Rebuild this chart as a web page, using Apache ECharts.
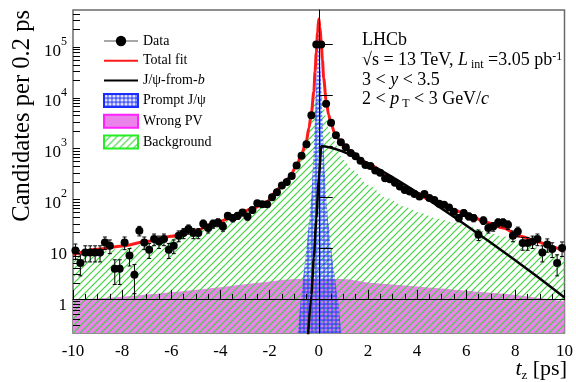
<!DOCTYPE html>
<html>
<head>
<meta charset="utf-8">
<script src="https://cdn.jsdelivr.net/npm/echarts@6/dist/echarts.min.js"></script>
<style>
  html, body { margin: 0; padding: 0; background: #fff; }
  #chart { width: 576px; height: 382px; }
</style>
</head>
<body>
<div id="chart"></div>
<script>
// ---- data: t_z bins (0.2 ps wide) and candidate counts ----
const binCenters = [
  -9.9, -9.7, -9.5, -9.3, -9.1, -8.9, -8.7, -8.5, -8.3, -8.1,
  -7.9, -7.7, -7.5, -7.3, -7.1, -6.9, -6.7, -6.5, -6.3, -6.1,
  -5.9, -5.7, -5.5, -5.3, -5.1, -4.9, -4.7, -4.5, -4.3, -4.1,
  -3.9, -3.7, -3.5, -3.3, -3.1, -2.9, -2.7, -2.5, -2.3, -2.1,
  -1.9, -1.7, -1.5, -1.3, -1.1, -0.9, -0.7, -0.5, -0.3, -0.1,
  0.1, 0.3, 0.5, 0.7, 0.9, 1.1, 1.3, 1.5, 1.7, 1.9,
  2.1, 2.3, 2.5, 2.7, 2.9, 3.1, 3.3, 3.5, 3.7, 3.9,
  4.1, 4.3, 4.5, 4.7, 4.9, 5.1, 5.3, 5.5, 5.7, 5.9,
  6.1, 6.3, 6.5, 6.7, 6.9, 7.1, 7.3, 7.5, 7.7, 7.9,
  8.1, 8.3, 8.5, 8.7, 8.9, 9.1, 9.3, 9.5, 9.7, 9.9
];
const dataCounts = [
  9.0, 5.1, 8.2, 8.2, 8.2, 8.2, 12.9, 11.1, 3.9, 3.9,
  12.9, 7.1, 3.0, 22, 12.9, 9.3, 15, 13.5, 15, 9.3,
  11.1, 17.5, 19.7, 23.6, 19.7, 19.7, 30, 24.7, 30, 31.8,
  26.6, 43, 38.8, 43, 50, 41.7, 56, 76, 73, 73,
  100, 125, 170, 200, 260, 420, 650, 1100, 4100, 100000,
  100000, 6900, 2900, 1650, 1200, 960, 740, 640, 520, 430,
  410, 335, 302, 235, 225, 193, 162, 139, 129, 115,
  103, 116, 96, 88, 74, 71, 63, 52, 39, 49,
  42, 39, 18.3, 35, 24.7, 26.6, 31.7, 31.7, 28.7, 17.5,
  21.2, 12.6, 12.6, 13.5, 15, 8.2, 11.7, 9.6, 5.1, 10
];

// total fit
const fitT = [-10, -9, -8, -7, -6, -5, -4.3, -3.5, -2.7, -2.2, -1.6, -1.2, -0.9, -0.7, -0.5,
  -0.4, -0.3, -0.2, -0.15, -0.1, -0.05, 0, 0.05, 0.1, 0.15, 0.2, 0.3, 0.4, 0.5, 0.65,
  0.9, 1.1, 1.4, 1.8, 2.2, 2.8, 3.4, 4.0, 4.8, 5.4, 6.1, 6.8, 7.5, 8.2, 8.9, 9.5, 10];
const fitV = [7.4, 9.5, 11, 13.5, 17, 22, 30, 40, 60, 75, 150, 240, 420, 700, 1300,
  2300, 4500, 12000, 30000, 70000, 170000, 320000, 220000, 110000, 50000, 22000, 8000, 4200, 2800, 1800,
  1200, 950, 740, 500, 405, 240, 155, 110, 80, 58, 45, 32, 24.7, 17, 13.3, 10.5, 8.5];

// J/psi-from-b component
const fromBT = [-0.45, -0.3, -0.2, -0.1, 0, 0.1, 10];
const fromBV = [0.15, 1.2, 6.5, 38, 220, 1000, 1.07];

// prompt J/psi component
const promptT = [-0.88, -0.72, -0.6, -0.5, -0.4, -0.3, -0.25, -0.2, -0.16, -0.12, -0.08, -0.04, 0,
  0.04, 0.08, 0.12, 0.16, 0.2, 0.25, 0.3, 0.4, 0.5, 0.62, 0.78, 0.95];
const promptV = [0.12, 1, 3.5, 10, 30, 100, 300, 1000, 3000, 10000, 30000, 100000, 320000,
  100000, 30000, 10000, 3000, 1000, 300, 100, 30, 10, 3.5, 1, 0.12];

// wrong-PV component
const wrongPvT = [-10, -8, -6, -4, -2, -1, 0, 1, 2, 4, 6, 8, 10];
const wrongPvV = [0.95, 1.1, 1.35, 1.7, 2.2, 2.45, 2.5, 2.45, 2.1, 1.75, 1.45, 1.2, 0.9];

// background component
const bkgT = [-10, -9, -8, -7, -6, -5, -4.3, -3.5, -2.7, -2.2, -1.6, -1.2, -0.9, -0.7, -0.5,
  -0.4, -0.3, -0.2, -0.1, 0, 0.1, 0.2, 0.3, 0.4, 0.6, 1.0, 1.4, 2.0, 2.8, 3.5,
  4.1, 4.8, 5.5, 6.2, 6.8, 7.5, 8.2, 9.0, 10];
const bkgV = [6.3, 8.3, 9.8, 12, 15.5, 20.5, 28, 38, 57, 72, 140, 225, 390, 640, 1100,
  2000, 3800, 8000, 15000, 20000, 12000, 6000, 3500, 2200, 1300, 540, 340, 175, 95, 65,
  50, 38, 32, 26, 21, 17, 13.5, 10, 6.5];

// axis tick labels
const xTicks = [-10, -8, -6, -4, -2, 0, 2, 4, 6, 8, 10];
const yDecades = [0, 1, 2, 3, 4, 5];

// ---- helpers ----
const FONT = "'Liberation Serif', 'DejaVu Serif', serif";
const Y_MIN = -0.67, Y_MAX = 5.68;
const lg = v => Math.log10(v);
const pairs = (ts, vs) => ts.map((t, i) => [t, lg(vs[i])]);

const yMinor = [];
for (let n = -1; n <= 5; n++) {
  for (let k = 2; k <= 9; k++) {
    const v = n + Math.log10(k);
    if (v > Y_MIN && v < Y_MAX) yMinor.push(v);
  }
}

// diagonal green hatching
function makeHatch() {
  const c = document.createElement('canvas');
  c.width = 7; c.height = 7;
  const g = c.getContext('2d');
  g.strokeStyle = '#3ed43e';
  g.lineWidth = 1.2;
  g.beginPath();
  g.moveTo(0, 7); g.lineTo(7, 0);
  g.moveTo(-2, 2); g.lineTo(2, -2);
  g.moveTo(5, 9); g.lineTo(9, 5);
  g.stroke();
  return c;
}
// blue lattice with open round holes
function makeCross() {
  const c = document.createElement('canvas');
  c.width = 4; c.height = 4;
  const g = c.getContext('2d');
  g.fillStyle = 'rgba(40,60,255,0.85)';
  g.fillRect(0, 0, 4, 4);
  g.globalCompositeOperation = 'destination-out';
  g.beginPath();
  g.arc(2, 2, 1.6, 0, Math.PI * 2);
  g.fill();
  return c;
}
const hatchFill = { image: makeHatch(), repeat: 'repeat' };
const crossFill = { image: makeCross(), repeat: 'repeat' };
const pinkFill = '#ea84ea';

const errorData = binCenters.map((t, i) => {
  const n = dataCounts[i], e = Math.sqrt(n);
  return [t, lg(Math.max(n - e, 1e-3)), lg(n + e)];
});

const chart = echarts.init(document.getElementById('chart'), null, { renderer: 'canvas' });

const mainTxt = { fontFamily: FONT, fontSize: 17, color: '#000', lineHeight: 24, verticalAlign: 'bottom' };
const supTxt = { fontFamily: FONT, fontSize: 12, color: '#000', lineHeight: 8, verticalAlign: 'top' };

chart.setOption({
  animation: false,
  backgroundColor: '#fff',
  grid: { left: 73, right: 9, top: 10, bottom: 49, show: true, borderColor: '#6a6a6a', borderWidth: 1.5, backgroundColor: 'transparent' },
  xAxis: {
    type: 'value', min: -10, max: 10, interval: 2,
    axisLine: { lineStyle: { color: '#000', width: 1 } },
    axisTick: { inside: true, length: 9, lineStyle: { color: '#000' } },
    minorTick: { show: true, splitNumber: 4, length: 5, lineStyle: { color: '#000' } },
    axisLabel: { fontFamily: FONT, fontSize: 17, color: '#000', margin: 10,
      formatter: v => (xTicks.indexOf(v) >= 0 ? String(v) : '') },
    splitLine: { show: false }, minorSplitLine: { show: false },
    z: 10
  },
  yAxis: [
    {
      type: 'value', min: Y_MIN, max: Y_MAX, position: 'left', offset: 0,
      axisLine: { show: true, lineStyle: { color: '#000', width: 1 } },
      axisTick: { show: true, inside: true, length: 14, customValues: yDecades, lineStyle: { color: '#000' } },
      axisLabel: {
        customValues: yDecades, margin: 6, padding: [6, 0, 0, 0],
        formatter: v => (v === 0 ? '{m|1}' : v === 1 ? '{m|10}' : '{m|10}{s|' + v + '}'),
        rich: { m: mainTxt, s: supTxt }
      },
      splitLine: { show: false },
      z: 10
    },
    {
      type: 'value', min: Y_MIN, max: Y_MAX, position: 'left', offset: 0,
      axisLine: { show: false },
      axisTick: { show: true, inside: true, length: 7, customValues: yMinor, lineStyle: { color: '#000' } },
      axisLabel: { show: false },
      splitLine: { show: false },
      z: 10
    }
  ],
  legend: {
    orient: 'vertical', left: 98, top: 29,
    itemWidth: 34, itemHeight: 13, itemGap: 5.7,
    selectedMode: false,
    textStyle: { fontFamily: FONT, fontSize: 14, color: '#000', lineHeight: 13,
      rich: { i: { fontFamily: FONT, fontSize: 14, fontStyle: 'italic', color: '#000', lineHeight: 13 } } },
    formatter: name => (name === 'J/ψ-from-b' ? 'J/ψ-from-{i|b}' : name),
    data: [
      { name: 'Data', itemStyle: { color: '#000' }, lineStyle: { color: '#8a8a8a', width: 1.5, opacity: 1 } },
      { name: 'Total fit', itemStyle: { opacity: 0 } },
      { name: 'J/ψ-from-b', itemStyle: { opacity: 0 } },
      { name: 'Prompt J/ψ', icon: 'rect', itemStyle: { color: crossFill, borderColor: '#1a2cff', borderWidth: 2 } },
      { name: 'Wrong PV', icon: 'rect', itemStyle: { color: pinkFill, borderColor: '#ff22ff', borderWidth: 2 } },
      { name: 'Background', icon: 'rect', itemStyle: { color: hatchFill, borderColor: '#22ee22', borderWidth: 2 } }
    ]
  },
  series: [
    {
      name: 'Wrong PV', type: 'line', z: 1, symbol: 'none', smooth: 0.3,
      data: pairs(wrongPvT, wrongPvV),
      lineStyle: { width: 0 }, itemStyle: { color: pinkFill },
      areaStyle: { color: pinkFill, opacity: 1, origin: 'start' }
    },
    {
      name: 'Background', type: 'line', z: 2, symbol: 'none', smooth: 0.3, smoothMonotone: 'x',
      data: pairs(bkgT, bkgV),
      lineStyle: { width: 0 }, itemStyle: { color: '#3ed43e' },
      areaStyle: { color: hatchFill, opacity: 1, origin: 'start' }
    },
    {
      name: 'Prompt J/ψ', type: 'line', z: 3, symbol: 'none', smooth: 0.2, smoothMonotone: 'x',
      data: pairs(promptT, promptV),
      lineStyle: { width: 0 }, itemStyle: { color: '#1a2cff' },
      areaStyle: { color: crossFill, opacity: 1, origin: 'start' }
    },
    {
      name: 'J/ψ-from-b', type: 'line', z: 4, symbol: 'none', smooth: 0.2, smoothMonotone: 'x',
      data: pairs(fromBT, fromBV),
      lineStyle: { color: '#000', width: 2.5 }, itemStyle: { color: '#000' }
    },
    {
      name: 'Total fit', type: 'line', z: 5, symbol: 'none', smooth: 0.3, smoothMonotone: 'x',
      data: pairs(fitT, fitV),
      lineStyle: { color: '#ff1a1a', width: 3 }, itemStyle: { color: '#ff1a1a' }
    },
    {
      name: 'errors', type: 'custom', z: 6, clip: true,
      data: errorData,
      encode: { x: 0, y: [1, 2] },
      renderItem: (params, api) => {
        const t = api.value(0);
        const lo = api.coord([t, api.value(1)]);
        const hi = api.coord([t, api.value(2)]);
        const st = { stroke: '#000', lineWidth: 1 };
        return {
          type: 'group',
          children: [
            { type: 'line', shape: { x1: lo[0], y1: lo[1], x2: hi[0], y2: hi[1] }, style: st },
            { type: 'line', shape: { x1: lo[0] - 2, y1: lo[1], x2: lo[0] + 2, y2: lo[1] }, style: st },
            { type: 'line', shape: { x1: hi[0] - 2, y1: hi[1], x2: hi[0] + 2, y2: hi[1] }, style: st }
          ]
        };
      }
    },
    {
      name: 'Data', type: 'line', z: 7,
      data: pairs(binCenters, dataCounts),
      symbol: 'circle', symbolSize: 8, showSymbol: true, showAllSymbol: true,
      itemStyle: { color: '#000' },
      lineStyle: { width: 0, opacity: 0 }
    }
  ],
  graphic: [
    {
      type: 'text', x: 23, y: 10, rotation: Math.PI / 2,
      style: { text: 'Candidates per 0.2 ps', fontFamily: FONT, fontSize: 24.6, fill: '#000', align: 'right', verticalAlign: 'middle' }
    },
    {
      type: 'text', x: 567, y: 370,
      style: {
        text: '{i|t}{b|z}{n| [ps]}', align: 'right', verticalAlign: 'middle', fill: '#000',
        rich: {
          i: { fontFamily: FONT, fontSize: 22, fontStyle: 'italic', lineHeight: 24, verticalAlign: 'top' },
          b: { fontFamily: FONT, fontSize: 13, lineHeight: 10, verticalAlign: 'bottom' },
          n: { fontFamily: FONT, fontSize: 22, lineHeight: 24, verticalAlign: 'top' }
        }
      }
    },
    {
      type: 'text', x: 362, y: 40,
      style: { text: 'LHCb', fontFamily: FONT, fontSize: 18, fill: '#000', align: 'left', verticalAlign: 'middle' }
    },
    {
      type: 'text', x: 362, y: 61,
      style: {
        text: '{n|√s = 13 TeV, }{i|L}{b| int}{n| =3.05 pb}{p|-1}', align: 'left', verticalAlign: 'middle', fill: '#000',
        rich: {
          n: { fontFamily: FONT, fontSize: 18, lineHeight: 20, verticalAlign: 'top' },
          i: { fontFamily: FONT, fontSize: 18, fontStyle: 'italic', lineHeight: 20, verticalAlign: 'top' },
          b: { fontFamily: FONT, fontSize: 12, lineHeight: 8, verticalAlign: 'bottom' },
          p: { fontFamily: FONT, fontSize: 12, lineHeight: 10, verticalAlign: 'top' }
        }
      }
    },
    {
      type: 'text', x: 362, y: 80,
      style: {
        text: '{n|3 < }{i|y}{n| < 3.5}', align: 'left', verticalAlign: 'middle', fill: '#000',
        rich: {
          n: { fontFamily: FONT, fontSize: 18, lineHeight: 20 },
          i: { fontFamily: FONT, fontSize: 18, fontStyle: 'italic', lineHeight: 20 }
        }
      }
    },
    {
      type: 'text', x: 362, y: 100,
      style: {
        text: '{n|2 < }{i|p}{b| T}{n| < 3 GeV/}{i|c}', align: 'left', verticalAlign: 'middle', fill: '#000',
        rich: {
          n: { fontFamily: FONT, fontSize: 18, lineHeight: 20, verticalAlign: 'top' },
          i: { fontFamily: FONT, fontSize: 18, fontStyle: 'italic', lineHeight: 20, verticalAlign: 'top' },
          b: { fontFamily: FONT, fontSize: 12, lineHeight: 8, verticalAlign: 'bottom' }
        }
      }
    }
  ]
});
</script>
</body>
</html>
